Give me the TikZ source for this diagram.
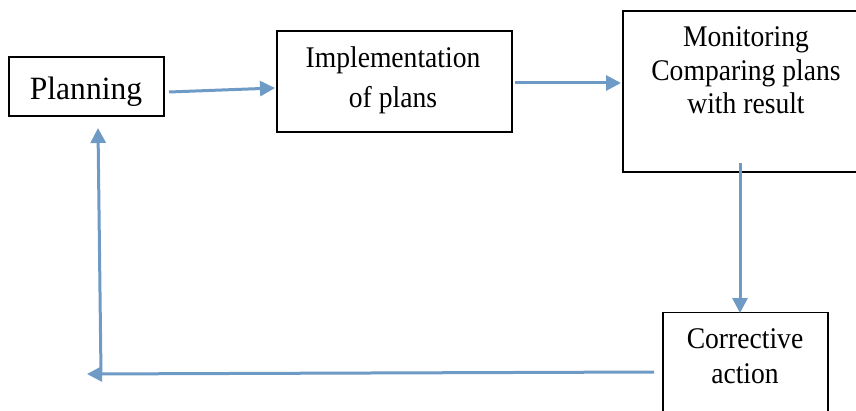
\documentclass[tikz,border=0pt]{standalone}
\usepackage{fontspec}
\setmainfont{Liberation Serif}
\newfontfamily\boxfont[FakeStretch=0.92]{Liberation Serif}
\newfontfamily\planfont[FakeStretch=0.97]{Liberation Serif}
\usetikzlibrary{arrows.meta}
\definecolor{flowblue}{RGB}{110,154,198}
\begin{document}
\begin{tikzpicture}[x=1pt,y=1pt,
  boxshape/.style={draw=black,line width=1.5pt,fill=none,inner sep=0pt,anchor=south west},
  flow/.style={draw=flowblue,line width=3pt,-{Triangle[length=15pt,width=15pt]}},
  flowline/.style={draw=flowblue,line width=3pt},
  label/.style={anchor=base,inner sep=0pt,font=\boxfont\fontsize{30}{30}\selectfont},
  planlabel/.style={anchor=base,inner sep=0pt,font=\planfont\fontsize{32.5}{32.5}\selectfont}]
\useasboundingbox (0,0) rectangle (856,410);
\fill[white] (0,0) rectangle (856,410);
% boxes
\node[boxshape,minimum width=155pt,minimum height=59pt] (plan) at (8,293) {};
\node[boxshape,minimum width=235pt,minimum height=101pt] (impl) at (276,277) {};
\node[boxshape,minimum width=248pt,minimum height=161pt] (mon) at (622,237) {};
\node[boxshape,minimum width=165pt,minimum height=107pt] (corr) at (662,-10) {};
% texts
\node[planlabel] (tplan) at (86,310) {Planning};
\node[label] (timpl1) at (393,342) {Implementation};
\node[label] (timpl2) at (393,302) {of plans};
\node[label] (tmon1) at (746,363) {Monitoring};
\node[label] (tmon2) at (746,329) {Comparing plans};
\node[label] (tmon3) at (746,296) {with result};
\node[label] (tcorr1) at (745,62) {Corrective};
\node[label] (tcorr2) at (745,27) {action};
% connector ends
\coordinate (p1) at (169,318);
\coordinate (p2) at (275,322);
\coordinate (i1) at (515,327);
\coordinate (i2) at (621,327);
\coordinate (m1) at (740,247);
\coordinate (m2) at (740,97);
\coordinate (c1) at (654,38);
\coordinate (c2) at (87,36);
\coordinate (v1) at (101,36);
\coordinate (v2) at (98,282);
% connectors
\draw[flow] (p1) -- (p2);
\draw[flow] (i1) -- (i2);
\draw[flow] (m1) -- (m2);
\draw[flow] (c1) -- (c2);
\draw[flow] (v1) -- (v2);
\end{tikzpicture}
\end{document}
